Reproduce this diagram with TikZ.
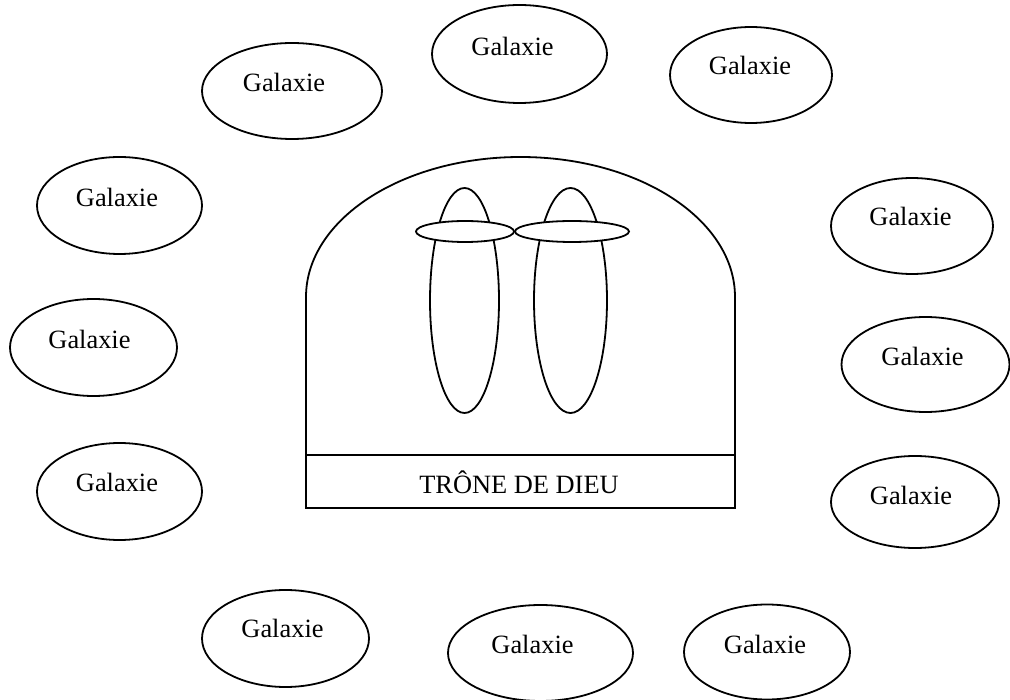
\documentclass[tikz,border=0pt]{standalone}
\usepackage{fontspec}
\setmainfont{Liberation Serif}
\usetikzlibrary{shapes.geometric}
\tikzset{
  galaxy/.style={draw, ellipse, line width=1.8pt, inner sep=0pt},
  gtxt/.style={inner sep=0pt, font=\fontsize{26.4}{30}\selectfont},
  outline/.style={draw, line width=1.8pt},
  bar/.style={draw, ellipse, line width=1.8pt, inner sep=0pt, fill=white}
}
\begin{document}
\begin{tikzpicture}[x=1pt,y=-1pt]
\useasboundingbox (0,0) rectangle (1010,700);
% galaxies: ellipse + label
\node[galaxy, minimum width=180pt, minimum height=96pt] (g1) at (292,91) {};
\node[gtxt] (t1) at (284,82) {Galaxie};
\node[galaxy, minimum width=175pt, minimum height=98pt] (g2) at (519.5,54) {};
\node[gtxt] (t2) at (512.5,46) {Galaxie};
\node[galaxy, minimum width=162pt, minimum height=96pt] (g3) at (751,75) {};
\node[gtxt] (t3) at (750,65.5) {Galaxie};
\node[galaxy, minimum width=165pt, minimum height=97pt] (g4) at (119.5,205.5) {};
\node[gtxt] (t4) at (117,197) {Galaxie};
\node[galaxy, minimum width=167pt, minimum height=97pt] (g5) at (93.5,347.5) {};
\node[gtxt] (t5) at (89.5,339) {Galaxie};
\node[galaxy, minimum width=165pt, minimum height=97pt] (g6) at (119.5,491.5) {};
\node[gtxt] (t6) at (117,482) {Galaxie};
\node[galaxy, minimum width=162pt, minimum height=96pt] (g7) at (912,226) {};
\node[gtxt] (t7) at (910.5,216) {Galaxie};
\node[galaxy, minimum width=168pt, minimum height=95pt] (g8) at (925.5,364.5) {};
\node[gtxt] (t8) at (922.5,356) {Galaxie};
\node[galaxy, minimum width=168pt, minimum height=92pt] (g9) at (915,502) {};
\node[gtxt] (t9) at (911,495) {Galaxie};
\node[galaxy, minimum width=167pt, minimum height=97pt] (g10) at (285.5,638.5) {};
\node[gtxt] (t10) at (282.5,628) {Galaxie};
\node[galaxy, minimum width=185pt, minimum height=96pt] (g11) at (540.5,653) {};
\node[gtxt] (t11) at (532.5,644) {Galaxie};
\node[galaxy, minimum width=166pt, minimum height=95pt] (g12) at (767,652) {};
\node[gtxt] (t12) at (765,644) {Galaxie};
% throne
\draw[outline] (306,508) -- (306,297)
  arc[start angle=180, end angle=0, x radius=214.5pt, y radius=140pt]
  -- (735,508) -- cycle;
\draw[outline] (306,455) -- (735,455);
\node[gtxt] (throne) at (519,482) {TRÔNE DE DIEU};
% figures
\node[galaxy, minimum width=69pt, minimum height=225pt] (lt) at (464.5,300.5) {};
\node[galaxy, minimum width=73pt, minimum height=225pt] (rt) at (570.5,300.5) {};
\node[bar, minimum width=98pt, minimum height=21pt] (lb) at (465,231.5) {};
\node[bar, minimum width=114pt, minimum height=21pt] (rb) at (572,231.5) {};
\end{tikzpicture}
\end{document}
